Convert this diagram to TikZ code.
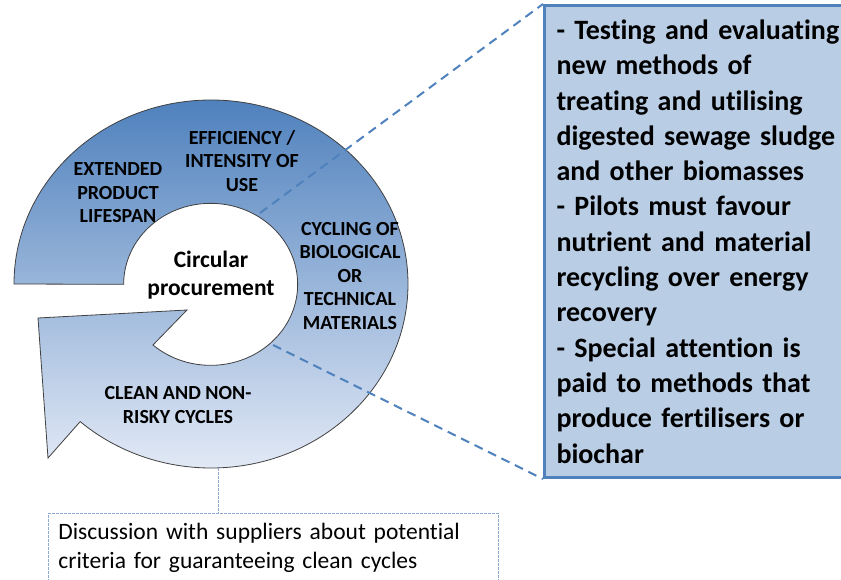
\documentclass[tikz,border=0pt]{standalone}
\usepackage{fontspec}
\setmainfont{Carlito}[Ligatures=NoCommon]
\usetikzlibrary{positioning}
\definecolor{ringtop}{RGB}{79,129,189}
\definecolor{ringbottom}{RGB}{226,233,246}
\definecolor{detailfill}{RGB}{185,205,229}
\definecolor{detailline}{RGB}{79,129,189}
\definecolor{noteline}{RGB}{140,170,210}
\begin{document}
\begin{tikzpicture}[x=1pt, y=-1pt,
		ring/.style={draw=black!75, line width=0.8pt, top color=ringtop, bottom color=ringbottom},
		ringlabel/.style={align=center, inner sep=0pt, font=\bfseries\fontsize{20}{23.5}\selectfont},
		centerlabel/.style={align=center, inner sep=0pt, font=\bfseries\fontsize{23.5}{27.5}\selectfont},
		detailbox/.style={draw=detailline, fill=detailfill, line width=3pt, anchor=north west,
			inner xsep=12pt, text width=306pt, align=left, minimum height=472pt,
			font=\bfseries\fontsize{28}{35.3}\selectfont},
		notebox/.style={draw=noteline, line width=0.8pt, dash pattern=on 2.5pt off 1.5pt, anchor=north west,
			inner xsep=10pt, inner ysep=10pt, text width=430pt, align=left, text depth=50pt,
			font=\fontsize{23.5}{29}\selectfont},
		zoomline/.style={draw=detailline, line width=2pt, dash pattern=on 9pt off 6pt},
		noteline/.style={draw=noteline, line width=0.8pt, dash pattern=on 2.5pt off 1.5pt}]
		\useasboundingbox (0,0) rectangle (841,580);
		\clip (0,0) rectangle (841,580);
		
		% circular arrow
		\path[ring] (14,284) arc[start angle=180, end angle=491.6, x radius=197, y radius=184]
			-- (48,458) -- (38,318) -- (187,310) -- (153,345)
			arc[start angle=491.5, end angle=180, x radius=87, y radius=81] -- cycle;
		
		\node[centerlabel] (cp) at (211,275) {Circular\\procurement};
		\node[ringlabel] (life) at (118,193) {EXTENDED\\PRODUCT\\LIFESPAN};
		\node[ringlabel] (use) at (242,161) {EFFICIENCY /\\INTENSITY OF\\USE};
		\node[ringlabel] (cyc) at (350,276) {CYCLING OF\\BIOLOGICAL\\OR\\TECHNICAL\\MATERIALS};
		\node[ringlabel] (clean) at (178,405) {CLEAN AND NON-\\RISKY CYCLES};
		
		\coordinate (upin) at (260,213);
		\coordinate (lowin) at (273,345);
		\coordinate (ringbot) at (218,468);
		
		% pilot details
		\node[detailbox] (detail) at (543,4) {- Testing and evaluating\\new methods of\\treating and utilising\\digested sewage sludge\\and other biomasses\\- Pilots must favour\\nutrient and material\\recycling over energy\\recovery\\- Special attention is\\paid to methods that\\produce fertilisers or\\biochar};
		\draw[zoomline] (upin) -- (detail.north west);
		\draw[zoomline] (lowin) -- (detail.south west);
		
		% supplier note
		\node[notebox] (note) at (48,513) {Discussion with suppliers about potential\\criteria for guaranteeing clean cycles};
		\draw[noteline] (ringbot) -- (ringbot |- note.north);
	\end{tikzpicture}
\end{document}
